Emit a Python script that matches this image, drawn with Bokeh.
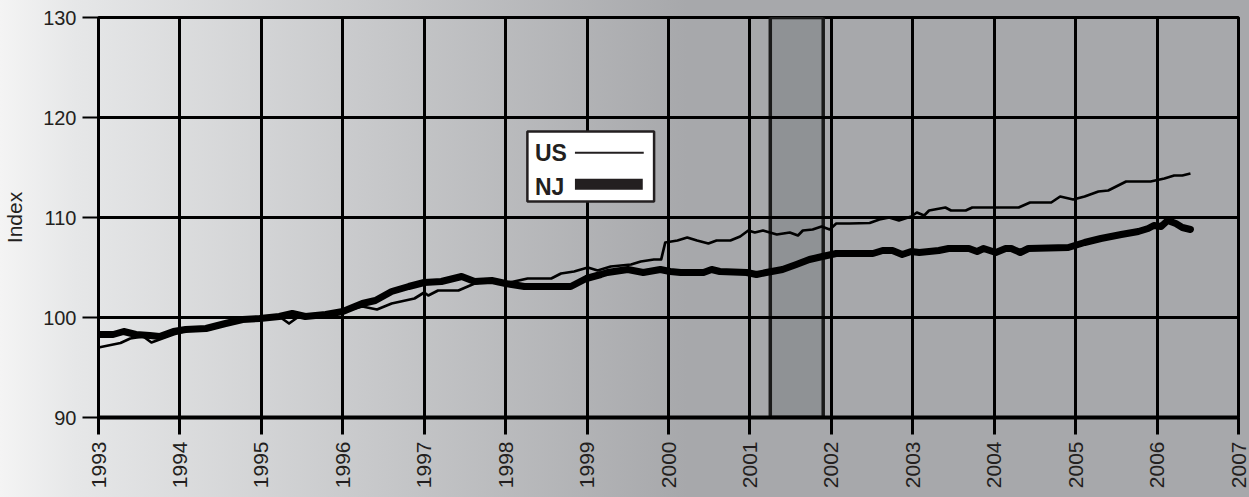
from math import pi
from bokeh.plotting import figure
from bokeh.models import FixedTicker, BoxAnnotation, Label, Range1d
from bokeh.embed import file_html
from bokeh.resources import INLINE

# ---- data ----
years = list(range(1993, 2008))
y_ticks = [90, 100, 110, 120, 130]

us_x = [1993.00, 1993.27, 1993.39, 1993.55, 1993.65, 1993.75, 1993.92, 1994.00, 1994.16, 1994.36,
        1994.53, 1994.69, 1995.00, 1995.22, 1995.34, 1995.46, 1995.79, 1996.00, 1996.24, 1996.42,
        1996.60, 1996.88, 1997.00, 1997.05, 1997.17, 1997.42, 1997.62, 1997.83, 1998.00, 1998.27,
        1998.56, 1998.68, 1998.84, 1999.01, 1999.13, 1999.29, 1999.54, 1999.66, 1999.82, 1999.91,
        1999.96, 2000.11, 2000.23, 2000.35, 2000.49, 2000.59, 2000.76, 2000.88, 2000.98, 2001.06,
        2001.16, 2001.33, 2001.49, 2001.59, 2001.65, 2001.77, 2001.88, 2001.98, 2002.06, 2002.22,
        2002.47, 2002.59, 2002.71, 2002.83, 2002.98, 2003.05, 2003.14, 2003.20, 2003.40, 2003.47,
        2003.65, 2003.73, 2004.30, 2004.44, 2004.70, 2004.81, 2004.97, 2005.11, 2005.28, 2005.40,
        2005.62, 2005.92, 2006.09, 2006.21, 2006.31, 2006.41]
us_y = [97.0, 97.45, 97.9, 98.1, 97.5, 97.8, 98.3, 98.5, 98.8, 98.8,
        99.3, 99.7, 99.9, 100.1, 99.4, 100.1, 100.4, 100.6, 101.1, 100.8,
        101.4, 101.9, 102.5, 102.2, 102.7, 102.7, 103.4, 103.7, 103.4, 103.9,
        103.9, 104.4, 104.6, 105.0, 104.7, 105.1, 105.3, 105.6, 105.8, 105.8,
        107.5, 107.7, 108.0, 107.7, 107.4, 107.7, 107.7, 108.1, 108.7, 108.5,
        108.7, 108.3, 108.5, 108.2, 108.7, 108.8, 109.1, 108.8, 109.4, 109.4,
        109.45, 109.8, 110.0, 109.7, 110.1, 110.5, 110.2, 110.7, 111.0, 110.7,
        110.7, 111.0, 111.0, 111.5, 111.5, 112.1, 111.8, 112.1, 112.6, 112.7,
        113.6, 113.6, 113.9, 114.2, 114.2, 114.4]

nj_x = [1993.00, 1993.18, 1993.31, 1993.46, 1993.63, 1993.75, 1993.92, 1994.07, 1994.32, 1994.56,
        1994.77, 1994.98, 1995.22, 1995.38, 1995.54, 1995.79, 1996.00, 1996.24, 1996.40, 1996.60,
        1996.81, 1997.00, 1997.21, 1997.46, 1997.62, 1997.83, 1998.00, 1998.23, 1998.80, 1998.99,
        1999.17, 1999.25, 1999.50, 1999.69, 1999.90, 2000.02, 2000.15, 2000.43, 2000.53, 2000.63,
        2000.96, 2001.08, 2001.20, 2001.40, 2001.57, 2001.73, 2001.89, 2002.06, 2002.51, 2002.63,
        2002.75, 2002.87, 2002.98, 2003.08, 2003.32, 2003.44, 2003.69, 2003.79, 2003.87, 2004.02,
        2004.14, 2004.21, 2004.32, 2004.42, 2004.91, 2005.11, 2005.31, 2005.56, 2005.77, 2005.89,
        2005.96, 2006.05, 2006.13, 2006.23, 2006.31, 2006.41]
nj_y = [98.3, 98.3, 98.6, 98.3, 98.2, 98.1, 98.6, 98.8, 98.9, 99.4,
        99.8, 99.9, 100.1, 100.4, 100.1, 100.3, 100.6, 101.4, 101.7, 102.6,
        103.1, 103.5, 103.6, 104.1, 103.6, 103.7, 103.4, 103.1, 103.1, 103.9,
        104.3, 104.5, 104.8, 104.5, 104.8, 104.6, 104.5, 104.5, 104.8, 104.6,
        104.5, 104.3, 104.5, 104.8, 105.3, 105.8, 106.1, 106.4, 106.4, 106.7,
        106.7, 106.3, 106.6, 106.5, 106.7, 106.9, 106.9, 106.6, 106.9, 106.5,
        106.9, 106.9, 106.5, 106.9, 107.0, 107.5, 107.9, 108.3, 108.6, 108.9,
        109.2, 109.1, 109.7, 109.4, 109.0, 108.8]

recession_start = 2001.25
recession_end = 2001.9

series_names = ["US", "NJ"]

# ---- figure ----
FONT = "Liberation Sans"
INK = "#231f20"

p = figure(width=1249, height=497, output_backend="svg", toolbar_location=None,
           x_range=Range1d(1993, 2007), y_range=Range1d(90, 130),
           min_border_left=95, min_border_right=11, min_border_top=17, min_border_bottom=80)
p.background_fill_alpha = 0
p.border_fill_alpha = 0
p.styles = {"background": "linear-gradient(to right, #f4f4f4 0%, #e6e7e8 6%, #a7a8ab 55%, #a7a8ab 100%)"}
p.outline_line_color = "black"
p.outline_line_width = 3

p.xaxis.ticker = FixedTicker(ticks=years)
p.yaxis.ticker = FixedTicker(ticks=y_ticks)

for g in (p.xgrid, p.ygrid):
    g.grid_line_color = "black"
    g.grid_line_width = 3

p.xaxis.axis_line_width = 4
p.xaxis.axis_line_color = "black"
p.xaxis.major_tick_line_width = 3
p.xaxis.major_tick_line_color = "black"
p.xaxis.major_tick_out = 17
p.xaxis.major_tick_in = 0
p.xaxis.minor_tick_line_color = None
p.xaxis.major_label_orientation = pi / 2
p.xaxis.major_label_standoff = 7
p.xaxis.major_label_text_font = FONT
p.xaxis.major_label_text_font_size = "21px"
p.xaxis.major_label_text_color = INK

p.yaxis.axis_line_width = 3
p.yaxis.axis_line_color = "black"
p.yaxis.major_tick_line_width = 2
p.yaxis.major_tick_line_color = "black"
p.yaxis.major_tick_out = 16
p.yaxis.major_tick_in = 0
p.yaxis.minor_tick_line_color = None
p.yaxis.major_label_standoff = 6
p.yaxis.major_label_text_font = FONT
p.yaxis.major_label_text_font_size = "20px"
p.yaxis.major_label_text_color = INK
p.yaxis.axis_label = "Index"
p.yaxis.axis_label_text_font = FONT
p.yaxis.axis_label_text_font_style = "normal"
p.yaxis.axis_label_text_font_size = "21px"
p.yaxis.axis_label_text_color = INK
p.yaxis.axis_label_standoff = 14

# recession shading (below the grid)
p.add_layout(BoxAnnotation(left=recession_start, right=recession_end,
                           fill_color="#8f9295", fill_alpha=1,
                           line_color="#1a1a1a", line_alpha=1, line_width=3.5, level="image"))

p.line(us_x, us_y, line_color="black", line_width=2.7, line_join="round")
p.line(nj_x, nj_y, line_color="black", line_width=7, line_join="round", line_cap="round")

# legend (label left, sample right)
p.add_layout(BoxAnnotation(left=1998.267, right=1999.823, bottom=111.6, top=118.6,
                           fill_color="white", fill_alpha=1, line_color=INK, line_alpha=1,
                           line_width=2.5))
p.add_layout(BoxAnnotation(left=1998.851, right=1999.696, bottom=116.37, top=116.57,
                           fill_color=INK, fill_alpha=1, line_alpha=0))
p.add_layout(BoxAnnotation(left=1998.851, right=1999.684, bottom=112.77, top=113.87,
                           fill_color=INK, fill_alpha=1, line_alpha=0))
p.add_layout(Label(x=1998.36, y=116.42, text=series_names[0], text_font=FONT,
                   text_font_style="bold", text_font_size="23px", text_color=INK,
                   text_baseline="alphabetic"))
p.add_layout(Label(x=1998.36, y=113.08, text=series_names[1], text_font=FONT,
                   text_font_style="bold", text_font_size="23px", text_color=INK,
                   text_baseline="alphabetic"))

html = file_html(p, INLINE)
html = html.replace("<head>", "<head><style>html,body{margin:0;padding:0;overflow:hidden;}</style>", 1)
open("out.html", "w").write(html)
